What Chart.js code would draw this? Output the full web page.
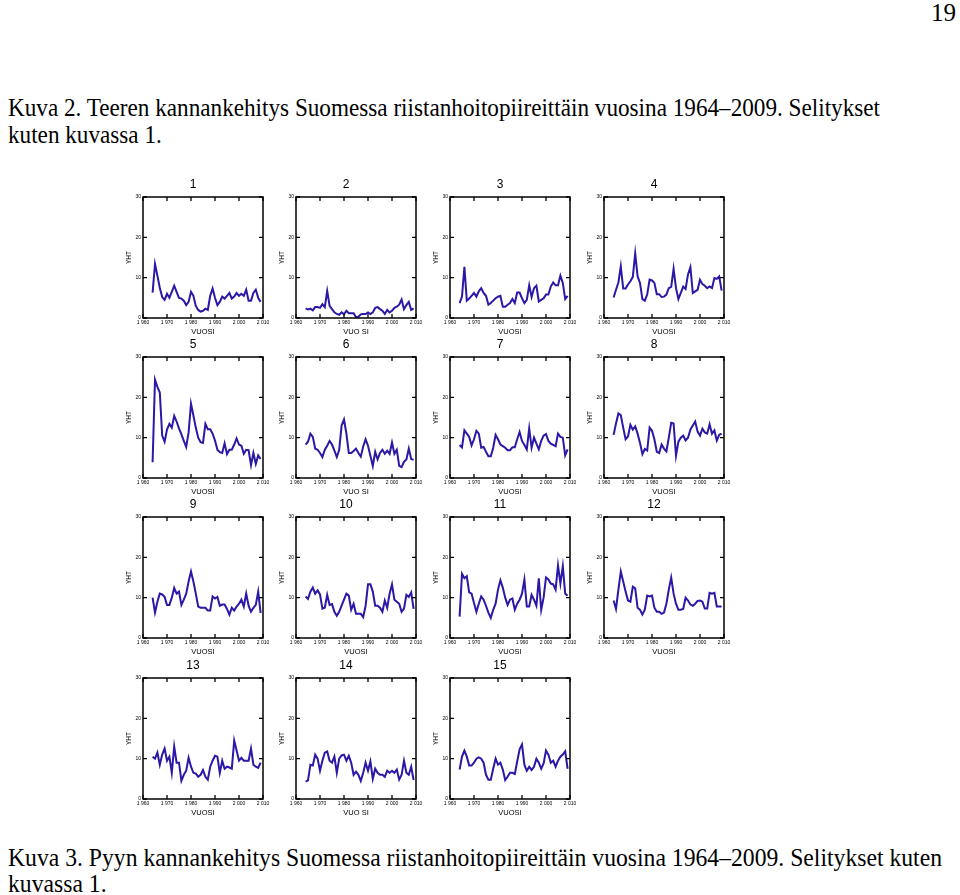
<!DOCTYPE html>
<html><head><meta charset="utf-8">
<script src="https://cdn.jsdelivr.net/npm/chart.js@4.4.1/dist/chart.umd.min.js"></script>
<style>
html,body{margin:0;padding:0;background:#fff;}
body{width:960px;height:895px;position:relative;overflow:hidden;font-family:"Liberation Serif","Times New Roman",serif;color:#000;}
.line{position:absolute;left:8px;font-size:25px;line-height:27px;white-space:nowrap;transform-origin:0 50%;}
#pg{position:absolute;right:4px;top:0px;font-size:25px;line-height:26px;}
canvas{position:absolute;}
</style></head>
<body>
<div id="pg">19</div>
<div class="line cap1" id="c1a" style="top:94px">Kuva 2. Teeren kannankehitys Suomessa riistanhoitopiireittäin vuosina 1964–2009. Selitykset</div>
<div class="line cap1" id="c1b" style="top:121px">kuten kuvassa 1.</div>
<div class="line cap2" id="c2a" style="top:844px">Kuva 3. Pyyn kannankehitys Suomessa riistanhoitopiireittäin vuosina 1964–2009. Selitykset kuten</div>
<div class="line cap2" id="c2b" style="top:870px">kuvassa 1.</div>
<script>
// ---- data ----
const years = [1964,1965,1966,1967,1968,1969,1970,1971,1972,1973,1974,1975,1976,1977,1978,1979,1980,1981,1982,1983,1984,1985,1986,1987,1988,1989,1990,1991,1992,1993,1994,1995,1996,1997,1998,1999,2000,2001,2002,2003,2004,2005,2006,2007,2008,2009];
const xTickValues = [1960,1970,1980,1990,2000,2010];
const xTickLabels = ['1 960','1 970','1 980','1 990','2 000','2 010'];
const yTickValues = [0,10,20,30];
const panelTitles = ['1','2','3','4','5','6','7','8','9','10','11','12','13','14','15'];
const xTitles = ['VUOSI','VUO SI','VUOSI','VUOSI','VUOSI','VUO SI','VUOSI','VUOSI','VUOSI','VUOSI','VUOSI','VUOSI','VUOSI','VUO SI','VUOSI'];
const yTitle = 'YHT';

const p1 = [6.3,13.4,10.5,7.5,5.2,4.5,6,5,6.5,8, 6.5,5,4.8,4.3,3.2,4,6.5,5.5,3,2, 1.6,1.8,2.3,2,5.5,7.3,5,3.2,4,5.3, 4.8,5.5,6.2,4.8,5.3,6.2,5.5,6,5.5,7, 4.3,4.3,6.2,7,5,4];
const p2 = [2.4,2.1,2.3,1.9,2.7,2.7,2.5,3.4,2.7,6.7, 3.0,2.2,1.4,1.0,0.8,1.4,0.9,1.8,1.2,1.2, 1.2,0.2,0.3,0.9,1.0,1.0,1.4,1.0,1.4,2.5, 2.7,2.2,1.8,1.0,2.0,1.4,1.8,2.5,2.8,3.3, 4.6,2.2,3.2,4.0,2.0,2.4];
const p3 = [3.7,5.3,12.7,4.3,4.8,5.5,6.2,5.3,6.6,7.4, 6.2,5.5,3.3,3.7,4.3,4.9,5.3,5.5,2.8,2.8, 3.3,3.7,4.7,3.7,6.3,6.3,4.9,3.7,4.5,8.1, 5.2,7.4,8.0,4.1,4.5,4.9,5.8,5.8,7.8,8.8, 8.1,8.1,10.5,8.7,4.7,5.5];
const p4 = [5.1,7.0,8.8,12.8,7.3,7.3,8.3,9.1,10.2,16.0, 10.3,8.7,4.7,4.3,5.8,9.5,9.3,8.7,5.9,5.9, 5.2,5.3,5.8,7.4,7.7,12.2,7.4,4.7,6.2,7.8, 7.2,10.8,12.6,6.2,6.6,7.0,9.5,8.4,8.0,7.4, 7.8,7.4,9.9,9.7,10.3,6.8];
const p5 = [3.9,24.4,22.6,21.2,10.5,9.0,12,13.4,12.5,15.4, 14,12.3,10.8,9.2,7.7,11.3,18.4,15.5,12.5,10, 8.9,8.7,13.4,12.1,12.1,11,9.3,7,6.4,6.2, 8.6,5.9,7,7,8.3,9.8,8.3,8,6,7, 6.9,3.2,6.2,3.5,5.6,4.7];
const p6 = [8.3,9.0,11,10.2,7.3,7.0,6.2,5.2,7.0,8.0, 9.2,8.3,6.8,5.2,7.0,13.0,14.5,11,6.2,6.2, 6.7,7.3,6.2,5.3,7.8,9.6,8.0,5.5,3.0,6.5, 4.6,6.2,7.0,6.0,6.8,6.0,8.8,6.0,7.0,3.0, 2.7,4.0,4.6,7.3,4.7,4.5];
const p7 = [8.2,7.6,11.8,11,10.2,8.1,9.6,11.7,11,7.5, 7.7,6.5,5.4,5.4,7.5,10.7,9.6,8.3,7.9,7.5, 6.9,6.9,7.6,7.6,9.6,11.4,9.2,8.2,7.1,12.3, 7.5,10,8.5,7.1,9.2,10.5,10.9,9.2,8.5,8.2, 7.9,11,10.2,10,5.6,7.1];
const p8 = [10.7,13.5,16,15.6,12.5,9.6,10.3,13.2,12,12.8, 11,8.7,5.9,7.2,6.8,12.5,11.7,9.6,6.5,6.2, 8.3,7.3,6.6,10,13.7,13.5,5.5,9,10,10.5, 9.3,10,12,13,14,11.5,10.5,12.2,11.3,11, 13.3,11,11.8,9.3,10.7,11];
const p9 = [10,6.3,9,11,10.8,10.2,8.2,8.2,10,12.4, 11,11.5,8.2,9.5,11,14,16.5,14,11,7.8, 7.5,7.5,7.5,6.8,6.8,10.3,9.8,10.2,8,8.3, 8.3,7.2,5.8,7.5,6.8,7.8,8.5,9.5,7.8,11, 8,6.5,7.5,8.2,11.5,6.2];
const p10 = [10.3,9.7,11.5,12.5,11,11.8,10.8,7.3,7.5,10.7, 8.2,8.4,6.5,5.5,6.5,8,9.5,11,10.5,7, 8.5,6,6,6,5.2,8,13.3,13.3,11.5,8, 8,7.5,6.5,9.3,7.5,11,13.3,9.5,9,8.5, 6.5,7.3,10.7,10.2,11.3,7.2];
const p11 = [5.3,15.9,14.8,15.3,11.3,11,8.7,6.5,8.5,10.3, 9.5,8,6.3,5,7,8.5,12,14.3,12.5,10, 8.2,9.5,9.8,7,8.5,9.5,11,14.5,7.8,7.8, 10.7,9.5,8,14.8,7,10,15,14.5,13.5,13.3, 12,18,13.5,17.8,11,10.5];
const p12 = [9.3,7.2,12,16.5,14,11.5,9.3,9,12.7,12.3, 7.5,7,5.8,7,10.5,10.3,10.5,7.5,6.5,6.5, 6,6.3,8.5,12,15,11,8.5,7,7,7.2, 10,9.3,8.3,8,8.5,9.2,9.3,9,7.3,7.3, 11.2,11,11.2,7.8,7.8,7.8];
const p13 = [10.5,10,11.5,8.5,11,12.5,9.5,10.5,6.5,13, 9,9,4.5,6,7,10.2,8,6.5,6.3,5.5, 6,7.2,5.5,4.8,8,9.5,10.7,10.5,6.5,9.5, 7.5,8,7.8,7.5,14.5,12,9.5,10.2,9.5,9.5, 9.5,12.5,8.5,8,7.7,9];
const p14 = [4.3,4.6,8.5,8.3,11,10,7,9.5,11.5,11.8, 9.5,9,10.5,6.5,10,10.8,11,9.5,10.7,9, 6,6.8,6,4.5,6.5,9,7,9.3,5,7.5, 6.5,6,6,5.5,7,6.5,7,6.5,7.3,4.8, 6,9.5,6.5,6,8,4.7];
const p15 = [7.3,10.5,12,10.5,8.3,8.3,9,10,10.3,10, 9,6,4.8,4.8,7.5,10,8.5,9,7.3,4.7, 5.5,6.5,6.5,6.2,9.3,12.3,13.5,8.5,7,8, 7.2,8,10,9,7.5,8.8,12,11,9,9.5, 8,9.5,10.5,11,11.8,7.5];
const series = [p1,p2,p3,p4,p5,p6,p7,p8,p9,p10,p11,p12,p13,p14,p15];

// ---- layout ----
const colLeft = [143,296,450,604];
const rowTop = [197,357,517,678];
const FW = 120, FH = 121;
const YW = 20, TH = 20, XH = 18, RP = 10;
const LINE = '#2a18a6';

const framePlugin = {
  id:'frame',
  afterDatasetsDraw(chart){
    const {ctx, chartArea:a, scales:{x,y}} = chart;
    ctx.save();
    ctx.strokeStyle = '#000';
    ctx.lineWidth = 1.5;
    ctx.strokeRect(a.left, a.top, a.right-a.left, a.bottom-a.top);
    ctx.lineWidth = 1.3;
    ctx.beginPath();
    x.ticks.forEach(t => {
      const px = x.getPixelForValue(t.value);
      ctx.moveTo(px, a.bottom); ctx.lineTo(px, a.bottom-4);
      ctx.moveTo(px, a.top); ctx.lineTo(px, a.top+4);
    });
    y.ticks.forEach(t => {
      const py = y.getPixelForValue(t.value);
      ctx.moveTo(a.left, py); ctx.lineTo(a.left+4, py);
      ctx.moveTo(a.right, py); ctx.lineTo(a.right-4, py);
    });
    ctx.stroke();
    ctx.restore();
  }
};

series.forEach((vals, i) => {
  const col = i % 4, row = Math.floor(i / 4);
  const cv = document.createElement('canvas');
  const W = YW + FW + RP, H = TH + FH + XH;
  cv.width = W; cv.height = H;
  cv.style.width = W + 'px'; cv.style.height = H + 'px';
  cv.style.left = (colLeft[col] - YW) + 'px';
  cv.style.top = (rowTop[row] - TH) + 'px';
  document.body.appendChild(cv);
  new Chart(cv, {
    type: 'line',
    data: { datasets: [{
      data: years.map((yr, k) => ({x: yr, y: vals[k]})),
      borderColor: LINE, borderWidth: 2, pointRadius: 0, tension: 0, fill: false
    }]},
    options: {
      responsive: false, animation: false, devicePixelRatio: 1,
      layout: { padding: { left: 0, right: RP, top: 0, bottom: 0 } },
      plugins: {
        legend: { display: false }, tooltip: { enabled: false },
        title: { display: true, text: panelTitles[i], color: '#000',
          font: { family: 'Liberation Sans', size: 12, weight: 'normal', lineHeight: 1.2 },
          padding: { top: 0, bottom: 5.6 } }
      },
      scales: {
        x: {
          type: 'linear', min: xTickValues[0], max: xTickValues[xTickValues.length-1],
          afterBuildTicks: s => { s.ticks = xTickValues.map(v => ({ value: v })); },
          ticks: { callback: v => xTickLabels[xTickValues.indexOf(v)], color: '#000',
            font: { family: 'Liberation Sans', size: 5 }, padding: 2, maxRotation: 0, autoSkip: false },
          grid: { display: false, drawTicks: false }, border: { display: false },
          title: { display: true, text: xTitles[i], color: '#000', padding: 0,
            font: { family: 'Liberation Sans', size: 7.5 } },
          afterFit: s => { s.height = XH; }
        },
        y: {
          min: yTickValues[0], max: yTickValues[yTickValues.length-1],
          afterBuildTicks: s => { s.ticks = yTickValues.map(v => ({ value: v })); },
          ticks: { color: '#000', font: { family: 'Liberation Sans', size: 5 }, padding: 2 },
          grid: { display: false, drawTicks: false }, border: { display: false },
          title: { display: true, text: yTitle, color: '#000', padding: { top: 2.4, bottom: 0 },
            font: { family: 'Liberation Sans', size: 6.5 } },
          afterFit: s => { s.width = YW; }
        }
      }
    },
    plugins: [framePlugin]
  });
});

// fit caption lines to reference widths
function fit(id, target) {
  const el = document.getElementById(id);
  const w = el.getBoundingClientRect().width;
  return target / w;
}
const s1 = fit('c1a', 872);
['c1a','c1b'].forEach(id => document.getElementById(id).style.transform = 'scaleX(' + s1 + ')');
const s2 = fit('c2a', 934);
['c2a','c2b'].forEach(id => document.getElementById(id).style.transform = 'scaleX(' + s2 + ')');
</script>
</body></html>
